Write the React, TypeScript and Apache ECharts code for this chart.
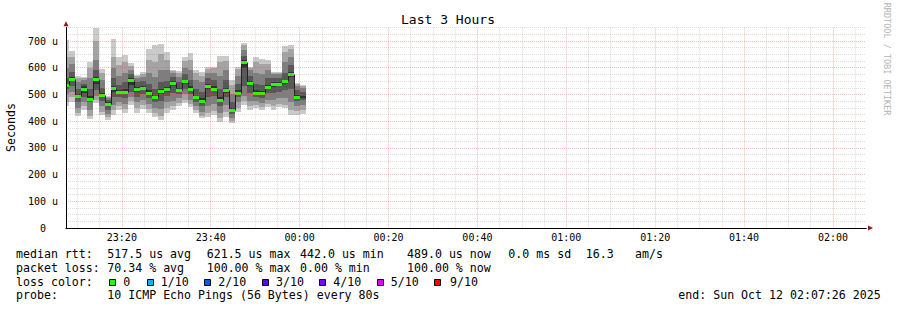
import React, { useEffect, useRef } from "react";
import * as echarts from "echarts";

// ---------- DATA ----------
// Time is expressed in minutes relative to midnight (negative = previous evening).
const axisStartMin = -(52 + 34 / 60); // 23:07:26
const axisEndMin = 127 + 26 / 60; // 02:07:26
const firstStepStartMin = -53.22; // start of the first 80 s RRD step (partly off-chart)
const stepMin = 80 / 60; // 80 s steps

// sorted ping RTTs per step (microseconds): ping1 = fastest ... ping10 = slowest
const ping1 = [455, 470, 418, 440, 407, 467, 423, 404, 423, 440, 430, 460, 430, 445, 430, 417, 404, 432, 442, 455, 467, 452, 430, 410, 417, 423, 398, 417, 392, 435, 460, 442, 448, 440, 452, 442, 452, 448, 423, 423, 425];
const ping2 = [472, 490, 430, 455, 418, 480, 435, 415, 440, 455, 445, 475, 448, 460, 445, 430, 420, 448, 455, 468, 480, 465, 440, 420, 430, 438, 410, 435, 400, 450, 475, 455, 460, 452, 465, 458, 465, 462, 440, 438, 440];
const ping3 = [500, 510, 450, 470, 440, 495, 455, 425, 460, 470, 465, 490, 470, 480, 465, 450, 445, 470, 475, 485, 500, 480, 455, 435, 455, 465, 430, 460, 410, 470, 495, 475, 475, 468, 480, 478, 485, 485, 470, 455, 460];
const ping4 = [520, 530, 470, 490, 470, 515, 475, 440, 490, 490, 485, 510, 490, 500, 485, 470, 475, 495, 505, 500, 520, 500, 470, 455, 490, 495, 455, 490, 425, 490, 530, 505, 490, 488, 505, 505, 510, 515, 520, 475, 478];
const ping5 = [530, 550, 485, 505, 480, 540, 490, 455, 510, 502, 500, 535, 510, 515, 500, 482, 500, 510, 530, 510, 540, 515, 482, 470, 520, 512, 470, 505, 437, 500, 600, 530, 500, 498, 520, 528, 530, 540, 565, 485, 488];
const ping6 = [540, 565, 500, 530, 495, 565, 505, 470, 530, 515, 520, 560, 528, 530, 515, 495, 520, 528, 550, 525, 555, 530, 495, 485, 540, 530, 490, 525, 450, 515, 630, 550, 515, 512, 535, 545, 545, 555, 585, 498, 495];
const ping7 = [560, 585, 520, 540, 520, 590, 525, 480, 560, 535, 545, 575, 545, 550, 540, 520, 545, 550, 565, 545, 575, 555, 520, 510, 560, 555, 520, 555, 470, 540, 645, 570, 540, 535, 560, 560, 562, 580, 610, 515, 510];
const ping8 = [600, 615, 545, 555, 560, 630, 555, 488, 600, 570, 580, 590, 560, 565, 580, 565, 590, 590, 580, 565, 600, 590, 555, 545, 580, 580, 570, 590, 500, 570, 665, 590, 580, 575, 590, 575, 575, 620, 640, 530, 525];
const ping9 = [640, 640, 560, 562, 600, 700, 580, 492, 640, 610, 620, 605, 570, 578, 630, 620, 650, 630, 588, 580, 625, 630, 580, 570, 595, 598, 620, 625, 535, 595, 685, 600, 620, 615, 615, 582, 582, 660, 670, 540, 532];
const ping10 = [705, 662, 570, 567, 620, 747, 594, 494, 708, 641, 648, 619, 573, 585, 670, 685, 689, 660, 592, 589, 641, 656, 592, 585, 601, 604, 644, 644, 554, 604, 694, 604, 639, 631, 629, 585, 585, 681, 685, 544, 535];
const median: (number | null)[] = [535, 559, 493, 519, 483, 557, 498, 464, 523, 509, 510, 554, 522, 523, 507, 489, 512, 520, 542, 517, 549, 522, 489, 477, 530, 522, 478, 515, 442, 507, 621.5, 543, 505, 505, 529, 538, 539, 549, 577, 489, null];

const titleText = "Last 3 Hours";
const yAxisTitle = "Seconds";
const watermark = "RRDTOOL / TOBI OETIKER";
const rttRow = ["median rtt:", "517.5 us avg", "621.5 us max", "442.0 us min", "489.0 us now", "0.0 ms sd", "16.3", "am/s"];
const lossRow = ["packet loss:", "70.34 % avg", "100.00 % max", "0.00 % min", "100.00 % now"];
const lossColorTitle = "loss color:";
const lossLabels = ["0", "1/10", "2/10", "3/10", "4/10", "5/10", "9/10"];
const lossColors = ["#26ff00", "#00b8ff", "#0059ff", "#5e00ff", "#7e00ff", "#dd00ff", "#ff0000"];
const probeRow = ["probe:", "10 ICMP Echo Pings (56 Bytes) every 80s"];
const endText = "end: Sun Oct 12 02:07:26 2025";

// ---------- LAYOUT / STYLE ----------
const FONT = '"DejaVu Sans Mono", monospace';
const SHADES = ["#cacaca", "#a4a4a4", "#7e7e7e", "#585858", "#323232"];
const MINOR = "rgba(128,128,128,0.28)";
const MAJOR = "rgba(230,80,80,0.38)";
const ARROW = "#8b1c1c";
const rowY = [254.3, 268, 281.7, 295.4];
const rttX = [16, 107.3, 206.7, 300, 407, 508.3, 585.7, 635];
const lossX = [16, 107.3, 206.7, 300, 407];
const boxX = [109, 147, 204, 262, 319, 377, 434];
const boxLabelX = [123.3, 160.7, 218.3, 276, 333.3, 390.7, 450];

function fmtTime(v: number) {
  const m = Math.round(((v % 1440) + 1440) % 1440);
  const hh = Math.floor(m / 60);
  const mm = m % 60;
  return `${hh < 10 ? "0" : ""}${hh}:${mm < 10 ? "0" : ""}${mm}`;
}

function buildOption() {
  const pings = [ping1, ping2, ping3, ping4, ping5, ping6, ping7, ping8, ping9, ping10];
  const data = median.map((m, i) => {
    const t0 = firstStepStartMin + i * stepMin;
    return [t0, t0 + stepMin, ...pings.map((p) => p[i]), m == null ? -1 : m, i > 0 && median[i - 1] != null ? (median[i - 1] as number) : -1];
  });

  // split-line colour lists (one entry per axis tick, extent ends included)
  const xMajorTicks: number[] = [axisStartMin];
  for (let v = Math.ceil(axisStartMin / 20) * 20; v <= axisEndMin; v += 20) xMajorTicks.push(v);
  xMajorTicks.push(axisEndMin);
  const xMajorColors = xMajorTicks.map((v, i) => (i === 0 || i === xMajorTicks.length - 1 ? "transparent" : MAJOR));
  const xMinorTicks: number[] = [axisStartMin];
  for (let v = Math.ceil(axisStartMin / 5) * 5; v <= axisEndMin; v += 5) xMinorTicks.push(v);
  xMinorTicks.push(axisEndMin);
  const xMinorColors = xMinorTicks.map((v, i) =>
    i === 0 || i === xMinorTicks.length - 1 || Math.abs(v % 20) < 1e-6 ? "transparent" : MINOR
  );
  const yMajorColors = [0, 100, 200, 300, 400, 500, 600, 700, 750].map((v) => (v === 0 || v === 750 ? "transparent" : MAJOR));
  const yMinorColors: string[] = [];
  for (let v = 0; v <= 750; v += 25) yMinorColors.push(v % 100 === 0 ? "transparent" : MINOR);

  const textEl = (x: number, y: number, text: string, size = 11.6, extra: any = {}, style: any = {}) => ({
    type: "text",
    x,
    y,
    silent: true,
    ...extra,
    style: { text, fill: "#000", fontSize: size, fontFamily: FONT, align: "left", verticalAlign: "middle", ...style },
  });

  const graphics: any[] = [];
  graphics.push(textEl(448, 19.5, titleText, 13, {}, { align: "center" }));
  graphics.push(textEl(10.8, 127.5, yAxisTitle, 11.6, { rotation: Math.PI / 2 }, { align: "center" }));
  graphics.push(textEl(887, 59, watermark, 8.5, { rotation: -Math.PI / 2 }, { align: "center", fill: "#b4b4b4" }));
  rttRow.forEach((t, i) => graphics.push(textEl(rttX[i], rowY[0], t)));
  lossRow.forEach((t, i) => graphics.push(textEl(lossX[i], rowY[1], t)));
  graphics.push(textEl(16, rowY[2], lossColorTitle));
  lossLabels.forEach((t, i) => {
    graphics.push({
      type: "rect",
      silent: true,
      shape: { x: boxX[i] + 0.5, y: 279.5, width: 6, height: 6 },
      style: { fill: lossColors[i], stroke: "#000", lineWidth: 1 },
    });
    graphics.push(textEl(boxLabelX[i], rowY[2], t));
  });
  graphics.push(textEl(16, rowY[3], probeRow[0]));
  graphics.push(textEl(107.3, rowY[3], probeRow[1]));
  graphics.push(textEl(678.3, rowY[3], endText));

  return {
    animation: false,
    backgroundColor: "#ffffff",
    grid: { left: 66, top: 27.66, width: 800, height: 200.34, containLabel: false },
    xAxis: [
      {
        type: "value",
        position: "bottom",
        min: axisStartMin,
        max: axisEndMin,
        splitNumber: 9,
        minInterval: 20,
        maxInterval: 20,
        z: 4,
        axisLine: { show: true, onZero: false, lineStyle: { color: "#000", width: 1 } },
        axisTick: { show: false },
        axisLabel: {
          show: true,
          showMinLabel: false,
          showMaxLabel: false,
          margin: 4,
          lineHeight: 10,
          fontSize: 10,
          fontFamily: FONT,
          color: "#000",
          formatter: (v: number) => (Math.abs(v / 20 - Math.round(v / 20)) < 1e-6 ? fmtTime(v) : ""),
        },
        splitLine: { show: true, lineStyle: { color: xMajorColors, width: 1, type: [1, 1] } },
      },
      {
        type: "value",
        position: "bottom",
        min: axisStartMin,
        max: axisEndMin,
        splitNumber: 36,
        minInterval: 5,
        maxInterval: 5,
        z: 3,
        axisLine: {
          show: true,
          onZero: false,
          symbol: ["none", "triangle"],
          symbolSize: [5, 5],
          symbolOffset: [0, 4.5],
          lineStyle: { color: ARROW, width: 1 },
        },
        axisTick: { show: false },
        axisLabel: { show: false },
        splitLine: { show: true, lineStyle: { color: xMinorColors, width: 1, type: [1, 1] } },
      },
    ],
    yAxis: [
      {
        type: "value",
        position: "left",
        min: 0,
        max: 750,
        interval: 100,
        z: 4,
        axisLine: { show: true, onZero: false, lineStyle: { color: "#000", width: 1 } },
        axisTick: { show: false },
        axisLabel: {
          show: true,
          margin: 8,
          fontSize: 10,
          fontFamily: FONT,
          color: "#000",
          formatter: (v: number) => (v === 0 ? "0\u00a0\u00a0" : v % 100 === 0 ? `${v} u` : ""),
        },
        splitLine: { show: true, lineStyle: { color: yMajorColors, width: 1, type: [1, 1] } },
      },
      {
        type: "value",
        position: "left",
        min: 0,
        max: 750,
        interval: 25,
        z: 3,
        axisLine: {
          show: true,
          onZero: false,
          symbol: ["none", "triangle"],
          symbolSize: [5, 5],
          symbolOffset: [0, 4],
          lineStyle: { color: ARROW, width: 1 },
        },
        axisTick: { show: false },
        axisLabel: { show: false },
        splitLine: { show: true, lineStyle: { color: yMinorColors, width: 1, type: [1, 1] } },
      },
    ],
    series: [
      {
        type: "custom",
        name: "smoke",
        xAxisIndex: 0,
        yAxisIndex: 0,
        clip: true,
        z: 2,
        encode: { x: [0, 1], y: [2, 11] },
        data,
        renderItem: (params: any, api: any) => {
          const t0 = api.value(0);
          const t1 = api.value(1);
          const x0 = Math.round(api.coord([t0, 0])[0]);
          const x1 = Math.round(api.coord([t1, 0])[0]);
          const children: any[] = [];
          for (let b = 0; b < 5; b++) {
            const lo = api.value(2 + b);
            const hi = api.value(11 - b);
            const yTop = Math.round(api.coord([t0, hi])[1]);
            const yBot = Math.round(api.coord([t0, lo])[1]);
            children.push({
              type: "rect",
              shape: { x: x0, y: yTop, width: x1 - x0, height: yBot - yTop },
              style: { fill: SHADES[b] },
            });
          }
          const m = api.value(12);
          const pm = api.value(13);
          if (typeof m === "number" && m > 0) {
            const ym = Math.round(api.coord([t0, m])[1]);
            if (typeof pm === "number" && pm > 0) {
              const yp = Math.round(api.coord([t0, pm])[1]);
              children.push({
                type: "line",
                shape: { x1: x0 + 0.5, y1: yp + 0.5, x2: x0 + 0.5, y2: ym + 0.5 },
                style: { stroke: "#202020", lineWidth: 1 },
              });
            }
            children.push({
              type: "rect",
              shape: { x: x0, y: ym - 1, width: x1 - x0, height: 3 },
              style: { fill: "#26ff00" },
            });
          }
          return { type: "group", children };
        },
      },
    ],
    graphic: graphics,
  };
}

export default function App() {
  const ref = useRef<HTMLDivElement>(null);
  useEffect(() => {
    if (!ref.current) return;
    const chart = echarts.init(ref.current, null, { renderer: "svg" });
    chart.setOption(buildOption() as any);
    return () => chart.dispose();
  }, []);
  return <div ref={ref} style={{ position: "absolute", left: 0, top: 0, width: 897, height: 310 }} />;
}
